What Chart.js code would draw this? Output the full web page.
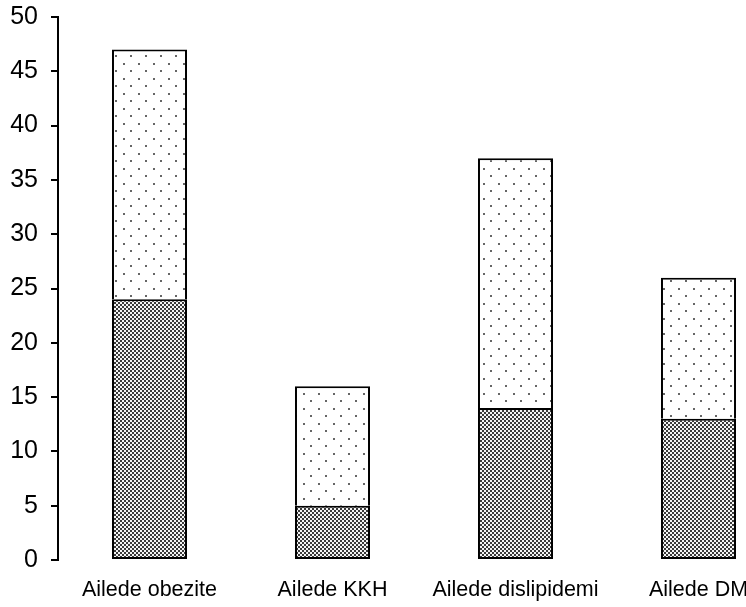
<!DOCTYPE html>
<html>
<head>
<meta charset="utf-8">
<script src="https://cdn.jsdelivr.net/npm/chart.js@4"></script>
<style>
  html, body { margin: 0; padding: 0; background: #fff; overflow: hidden; }
  #wrap { width: 790px; height: 607px; }
</style>
</head>
<body>
<div id="wrap"><canvas id="chart" width="790" height="607"></canvas></div>
<script>
// Chart data
const categories = ["Ailede obezite", "Ailede KKH", "Ailede dislipidemi", "Ailede DM"];
const lowerValues = [24, 5, 14, 13];
const upperValues = [23, 11, 23, 13];
const yTicks = [0, 5, 10, 15, 20, 25, 30, 35, 40, 45, 50];

// fill patterns
function checkerPattern() {
  const c = document.createElement('canvas');
  c.width = 4; c.height = 4;
  const ctx = c.getContext('2d');
  ctx.fillStyle = '#f4f4f4';
  ctx.fillRect(0, 0, 4, 4);
  ctx.fillStyle = '#3a3a3a';
  ctx.fillRect(0, 0, 2, 2);
  ctx.fillRect(2, 2, 2, 2);
  return ctx.createPattern(c, 'repeat');
}

function dotPattern() {
  const c = document.createElement('canvas');
  c.width = 15; c.height = 15;
  const ctx = c.getContext('2d');
  ctx.fillStyle = '#fff';
  ctx.fillRect(0, 0, 15, 15);
  ctx.fillStyle = '#666';
  ctx.fillRect(3, 3, 2, 2);
  ctx.fillRect(10, 10, 2, 2);
  return ctx.createPattern(c, 'repeat');
}

new Chart(document.getElementById('chart').getContext('2d'), {
  type: 'bar',
  data: {
    labels: categories,
    datasets: [
      { data: lowerValues, backgroundColor: checkerPattern(), borderColor: '#000', borderWidth: 2, borderSkipped: false, barPercentage: 0.41, categoryPercentage: 1 },
      // upper part shares the divider line with the lower part
      { data: upperValues, backgroundColor: dotPattern(), borderColor: '#000', borderWidth: 2, borderSkipped: 'bottom', barPercentage: 0.41, categoryPercentage: 1 }
    ]
  },
  options: {
    responsive: false,
    animation: false,
    layout: { padding: { top: 17, left: 0, right: 0, bottom: 0 } },
    plugins: { legend: { display: false }, tooltip: { enabled: false } },
    scales: {
      x: {
        stacked: true,
        grid: { display: false },
        border: { display: false },
        afterFit: axis => { axis.height = 47; axis.paddingLeft = 0; axis.paddingRight = 0; },
        ticks: { color: '#000', font: { family: 'Liberation Sans', size: 21.5 }, padding: 9, maxRotation: 0 }
      },
      y: {
        stacked: true,
        min: 0,
        max: 50,
        afterBuildTicks: axis => { axis.ticks = yTicks.map(v => ({ value: v })); },
        afterFit: axis => { axis.width = 58; axis.paddingTop = 0; axis.paddingBottom = 0; },
        grid: { drawOnChartArea: false, drawTicks: true, tickLength: 7, color: '#000', lineWidth: 2 },
        border: { display: true, color: '#000', width: 2 },
        ticks: { color: '#000', font: { family: 'Liberation Sans', size: 25 }, padding: 13 }
      }
    }
  }
});
</script>
</body>
</html>
